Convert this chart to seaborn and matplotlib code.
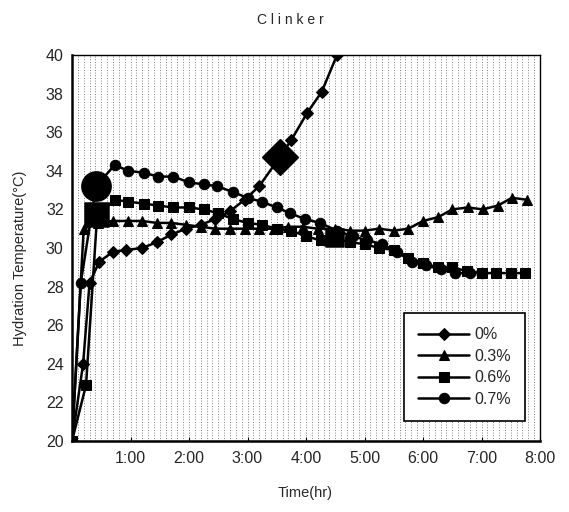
import matplotlib
matplotlib.use("Agg")
import matplotlib.pyplot as plt
from matplotlib.ticker import MultipleLocator, FixedLocator
import seaborn as sns
import pandas as pd

# ---- data (time in hours, temperature in degC) ----
labels = ["0%", "0.3%", "0.6%", "0.7%"]

t_0 = [0, 0.19, 0.3, 0.47, 0.7, 0.93, 1.2, 1.45, 1.7, 1.95, 2.2, 2.45, 2.7,
       2.95, 3.2, 3.55, 3.75, 4.02, 4.27, 4.53]
v_0 = [20, 24.0, 28.2, 29.3, 29.8, 29.9, 30.0, 30.3, 30.7, 31.0, 31.2, 31.5,
       31.9, 32.5, 33.2, 34.7, 35.6, 37.0, 38.1, 40.0]

t_03 = [0, 0.2, 0.45, 0.7, 0.95, 1.2, 1.45, 1.7, 1.95, 2.2, 2.45, 2.7, 2.95,
        3.2, 3.45, 3.7, 3.95, 4.2, 4.5, 4.75, 5.0, 5.25, 5.5, 5.75, 6.0, 6.26,
        6.5, 6.77, 7.02, 7.28, 7.52, 7.78]
v_03 = [20, 31.0, 31.3, 31.4, 31.4, 31.4, 31.3, 31.3, 31.2, 31.1, 31.0, 31.0,
        31.0, 31.0, 31.0, 31.1, 31.1, 31.0, 31.0, 30.9, 30.9, 31.0, 30.9, 31.0,
        31.4, 31.6, 32.0, 32.1, 32.0, 32.2, 32.6, 32.5]

t_06 = [0, 0.24, 0.43, 0.73, 0.96, 1.23, 1.47, 1.73, 2.0, 2.25, 2.5, 2.75,
        3.0, 3.25, 3.5, 3.75, 4.0, 4.25, 4.5, 4.75, 5.0, 5.25, 5.5, 5.75, 6.0,
        6.25, 6.5, 6.75, 7.0, 7.25, 7.5, 7.75]
v_06 = [20, 22.9, 31.7, 32.5, 32.4, 32.3, 32.2, 32.1, 32.1, 32.0, 31.8, 31.5,
        31.3, 31.2, 31.0, 30.9, 30.6, 30.4, 30.5, 30.3, 30.2, 30.0, 29.9, 29.5,
        29.2, 29.0, 29.0, 28.8, 28.7, 28.7, 28.7, 28.7]

t_07 = [0, 0.15, 0.41, 0.73, 0.96, 1.23, 1.47, 1.73, 2.0, 2.25, 2.48, 2.75,
        3.0, 3.24, 3.5, 3.73, 3.98, 4.24, 4.53, 4.8, 5.05, 5.3, 5.55, 5.81,
        6.05, 6.3, 6.55, 6.8, 7.0]
v_07 = [20, 28.2, 33.2, 34.3, 34.0, 33.9, 33.7, 33.7, 33.4, 33.3, 33.2, 32.9,
        32.6, 32.4, 32.1, 31.8, 31.5, 31.3, 30.9, 30.6, 30.4, 30.2, 29.8, 29.3,
        29.1, 28.9, 28.7, 28.7, 28.7]

# points drawn with enlarged markers (as in the scanned figure)
big_points = {"0%": [15], "0.6%": [2, 18], "0.7%": [2]}

x_ticks = [1, 2, 3, 4, 5, 6, 7, 8]
x_ticklabels = ["1:00", "2:00", "3:00", "4:00", "5:00", "6:00", "7:00", "8:00"]

series = {"0%": (t_0, v_0), "0.3%": (t_03, v_03),
          "0.6%": (t_06, v_06), "0.7%": (t_07, v_07)}
rows = []
for name in labels:
    ts, vs = series[name]
    for t, v in zip(ts, vs):
        rows.append({"time": t, "temp": v, "series": name})
df = pd.DataFrame(rows)

big_rows = []
for name, idxs in big_points.items():
    ts, vs = series[name]
    for i in idxs:
        big_rows.append({"time": ts[i], "temp": vs[i], "series": name})
df_big = pd.DataFrame(big_rows)

# ---- plot ----
sns.set_style("white")
plt.rcParams["font.family"] = ["Liberation Sans", "DejaVu Sans"]

fig = plt.figure(figsize=(5.69, 5.12), dpi=100)
ax = fig.add_axes([72 / 569, 1 - 441 / 512, (540 - 72) / 569, (441 - 55) / 512])

markers = {"0%": "D", "0.3%": "^", "0.6%": "s", "0.7%": "o"}
msize = {"0%": 6, "0.3%": 7, "0.6%": 7, "0.7%": 7.5}

for name in labels:
    sub = df[df["series"] == name]
    sns.lineplot(data=sub, x="time", y="temp", ax=ax, color="black",
                 marker=markers[name], markersize=msize[name],
                 markeredgecolor="black", markerfacecolor="black",
                 linewidth=1.8, label=name, sort=False, estimator=None)

big_size = {"0%": 320, "0.6%": 300, "0.7%": 420}
for name in big_points:
    sub = df_big[df_big["series"] == name]
    sizes = [big_size[name]] * len(sub)
    if name == "0.6%":
        sizes = [300, 170]
    sns.scatterplot(data=sub, x="time", y="temp", ax=ax, color="black",
                    marker=markers[name], s=sizes, edgecolor="black",
                    legend=False, zorder=5)

ax.set_xlim(0, 8)
ax.set_ylim(20, 40)
ax.xaxis.set_major_locator(FixedLocator(x_ticks))
ax.set_xticklabels(x_ticklabels)
ax.yaxis.set_major_locator(MultipleLocator(2))
ax.xaxis.set_minor_locator(MultipleLocator(0.1))

ax.set_facecolor("white")
ax.grid(which="both", axis="x", color="#555555", linestyle=(0, (1, 2.2)),
        linewidth=0.6)
ax.set_axisbelow(True)

for sp in ax.spines.values():
    sp.set_color("black")
    sp.set_linewidth(1.0)
ax.spines["top"].set_linestyle((0, (2, 1)))
ax.spines["right"].set_linestyle((0, (2, 1)))
ax.spines["left"].set_linewidth(1.8)
ax.spines["bottom"].set_linewidth(1.8)

ax.tick_params(axis="both", which="major", labelsize=11.5, direction="in",
               length=3, color="black", pad=6)
ax.tick_params(axis="x", which="minor", length=0)
ax.tick_params(axis="x", which="major", bottom=True, pad=7)

ax.set_xlabel("")
ax.set_ylabel("")
fig.text(20 / 569, 1 - 258 / 512, "Hydration Temperature(\u00b0C)", rotation=90,
         ha="center", va="center", fontsize=10.5)
fig.text(305 / 569, 1 - 493 / 512, "Time(hr)", ha="center", va="center",
         fontsize=10.5)
fig.text(290 / 569, 1 - 20 / 512, "C l i n k e r", ha="center", va="center",
         fontsize=10)

leg = ax.legend(loc="lower right", bbox_to_anchor=(0.968, 0.052),
                frameon=True, fancybox=False, edgecolor="black",
                fontsize=11.5, handlelength=3.2, handletextpad=0.3,
                labelspacing=0.4, borderpad=0.9, borderaxespad=0.0,
                framealpha=1)
leg.get_frame().set_linewidth(1.2)

fig.savefig("out.png", dpi=100)
